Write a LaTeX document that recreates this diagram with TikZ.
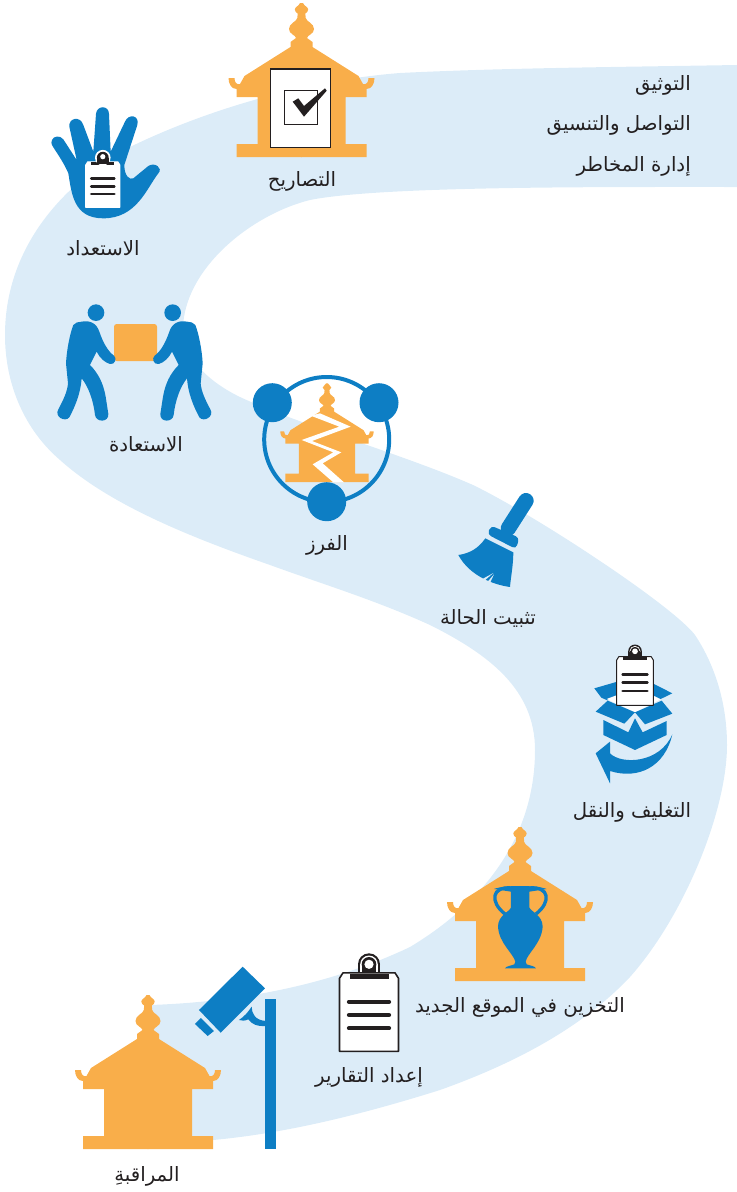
\documentclass[tikz,border=0pt]{standalone}
\usepackage{fontspec}
\newfontfamily\arabicfont[Script=Arabic]{DejaVu Sans}
\TeXXeTstate=1
\definecolor{bandc}{HTML}{DCECF8}
\definecolor{bluec}{HTML}{0D7EC4}
\definecolor{orangec}{HTML}{F9AE4A}
\definecolor{inkc}{HTML}{231F20}
\tikzset{
  lbl/.style={text=inkc,inner sep=0pt,font=\arabicfont\fontsize{14.8}{16}\selectfont},
  lblr/.style={lbl,anchor=east},
  bluestroke/.style={draw=bluec,line cap=round,line join=round}
}
\newcommand\halfhouse{\fill[orangec] (0.3,-154) -- (-1.5,-154) .. controls (-2.5,-151) and (-6.7,-150) .. (-6.7,-147.5) .. controls (-6.7,-145.5) and (-5,-144) .. (-3.8,-143.5) -- (-4.2,-139) .. controls (-5,-135) and (-12.5,-134) .. (-12.5,-128) .. controls (-12.5,-123) and (-6,-122) .. (-5.5,-119) -- (-11,-115) -- (-11,-110) -- (-57,-81) -- (-61.5,-73) .. controls (-65,-72) and (-67,-75) .. (-67,-79) -- (-73,-79) .. controls (-73,-73) and (-70,-68) .. (-65,-68) -- (-65,-60) -- (-44,-60) -- (-44,-13) -- (-65,-13) -- (-65,0) -- (0.3,0) -- cycle;}
\newcommand\temple[3]{\begin{scope}[shift={(#1,#2)},scale=#3]\halfhouse\begin{scope}[xscale=-1]\halfhouse\end{scope}\end{scope}}
% clipboard: x, y (centre of top of the sheet), scale, colour of outline
\newcommand\clipb[4]{\begin{scope}[shift={(#1,#2)},scale=#3]
  \fill[#4] (0,-14) circle[radius=11];
  \fill[#4] (-11,-14) rectangle (11,-3);
  \fill[white] (0,-14) circle[radius=8.8];
  \fill[white] (-8.8,-14) rectangle (8.8,-3);
  \fill[inkc] (0,-14) circle[radius=7.3];
  \fill[inkc] (-7.3,-14) rectangle (7.3,-2);
  \fill[white] (0,-14) circle[radius=4.6];
  \filldraw[fill=white,draw=#4,line width={#3*1.2pt},line join=round] (-29.5,0) -- (-29.5,73) -- (29.5,73) -- (29.5,0) -- (26,-5.5) -- (-26,-5.5) -- cycle;
  \fill[inkc] (-19.5,-4.5) rectangle (19.5,0.5);
  \foreach \yy in {23.4,36.7,50}{\draw[inkc,line cap=round,line width={#3*3.2pt}] (-20,\yy) -- (20,\yy);}
\end{scope}}
\newcommand\mover{\fill[bluec] (168,68) circle[radius=25];
 \fill[bluec] (125,95) .. controls (150,90) and (170,100) .. (178,125) .. controls (190,160) and (205,185) .. (222,197) .. controls (232,205) and (225,225) .. (210,222) .. controls (195,218) and (180,205) .. (170,185) -- (150,225) .. controls (175,250) and (190,280) .. (197,320) -- (205,372) .. controls (207,398) and (168,398) .. (165,375) .. controls (160,330) and (145,290) .. (125,265) .. controls (122,310) and (105,350) .. (88,382) .. controls (75,398) and (42,380) .. (55,358) .. controls (70,330) and (82,305) .. (84,280) -- (78,220) .. controls (80,180) and (90,130) .. (100,105) .. controls (105,97) and (115,96) .. (125,95) -- cycle;}
\begin{document}
\begin{tikzpicture}[x=0.75pt,y=-0.75pt]
\useasboundingbox (0,0) rectangle (737,1192);
% band
\fill[bandc] (737,65) .. controls (620,67) and (500,68) .. (400,73)
 .. controls (310,80) and (210,108) .. (130,147)
 .. controls (60,185) and (5,250) .. (5,335)
 .. controls (5,385) and (25,430) .. (60,460)
 .. controls (110,505) and (190,537) .. (270,565)
 .. controls (325,585) and (375,600) .. (430,625)
 .. controls (490,655) and (535,690) .. (535,750)
 .. controls (535,840) and (480,905) .. (410,947)
 .. controls (330,985) and (240,1002) .. (150,1005)
 -- (150,1145) -- (213,1140)
 .. controls (290,1133) and (370,1112) .. (440,1090)
 .. controls (510,1065) and (580,1030) .. (630,977)
 .. controls (685,915) and (727,810) .. (727,745)
 .. controls (727,700) and (713,662) .. (695,635)
 .. controls (672,605) and (535,515) .. (473,485)
 .. controls (405,455) and (300,425) .. (240,397)
 .. controls (205,380) and (183,355) .. (183,330)
 .. controls (183,270) and (250,215) .. (310,200)
 .. controls (380,186) and (600,187) .. (737,187) -- cycle;

% permits
\temple{301.5}{157}{1}
\filldraw[fill=white,draw=inkc,line width=0.8pt] (270.7,69) rectangle (330.7,147.3);
\draw[draw=inkc,line width=0.6pt] (284,90.7) rectangle (317.3,124);
\fill[inkc] (292.7,101.7) -- (298.3,98.3) -- (304,106) -- (325,88.3) -- (326.7,90.7) -- (304,116.7) -- cycle;

% hand
\begin{scope}[shift={(30,90)},scale=0.3333]
 \fill[bluec] (66,150) .. controls (70,138) and (90,135) .. (100,148) -- (140,210) -- (118,110) .. controls (115,85) and (150,75) .. (160,105) -- (190,185) -- (198,72) .. controls (200,45) and (237,45) .. (237,72) -- (242,185) -- (285,95) .. controls (295,70) and (330,75) .. (322,105) -- (283,225) .. controls (283,260) and (300,270) .. (310,265) -- (355,228) .. controls (375,215) and (400,235) .. (385,250) .. controls (350,295) and (320,385) .. (220,385) .. controls (130,385) and (125,310) .. (115,250) .. controls (105,225) and (85,195) .. (70,172) .. controls (62,160) and (64,155) .. (66,150) -- cycle;
\end{scope}
\clipb{102.8}{165}{0.58}{white}
\fill[white] (102.8,157.7) circle[radius=7.8];
\fill[inkc] (102.8,157.7) circle[radius=5.9];
\fill[inkc] (96.9,157.7) rectangle (108.7,164);
\fill[white] (102.8,156.7) circle[radius=2.6];

% restoration (movers)
\fill[orangec,rounded corners=2pt] (114,324) rectangle (157,361);
\begin{scope}[shift={(40,290)},scale=0.3333]\mover\end{scope}
\begin{scope}[shift={(268.67,0)},xscale=-1]\begin{scope}[shift={(40,290)},scale=0.3333]\mover\end{scope}\end{scope}

% triage
\temple{327}{482}{0.64}
\begin{scope}[shift={(240,365)},scale=0.3333]
 \fill[white] (212,152) -- (298,185) -- (185,225) -- (280,262) -- (218,298) -- (280,352) -- (312,352) -- (248,295) -- (304,262) -- (216,228) -- (332,185) -- (240,145) -- cycle;
\end{scope}
\draw[bluec,line width=3pt] (326.7,439.5) circle[radius=62.5];
\fill[bluec] (272.3,402.7) circle[radius=19.5];
\fill[bluec] (379,402.7) circle[radius=19.5];
\fill[bluec] (326.7,501.7) circle[radius=19.5];

% broom
\begin{scope}[shift={(430,485)},scale=0.3333]
 \draw[bluestroke,line width=11.5pt,line cap=round] (288,47) -- (235,130);
 \fill[bluec,rounded corners=3pt] (183,122) -- (268,158) -- (258,192) -- (172,148) -- cycle;
 \fill[bluec] (166,160) -- (250,202) .. controls (250,240) and (242,280) .. (240,306) .. controls (195,300) and (120,275) .. (85,210) .. controls (120,205) and (145,190) .. (166,160) -- cycle;
 \fill[bandc] (152,285) -- (190,264) -- (160,290) -- cycle;
 \fill[bandc] (168,296) -- (192,268) -- (178,298) -- cycle;
\end{scope}

% packing
\begin{scope}[shift={(560,635)},scale=0.3333]
 \fill[bluec] (103,160) -- (172,140) -- (172,188) -- (142,196) -- (124,188) -- cycle;
 \fill[white] (140,192) -- (225,232) -- (302,193) -- (225,160) -- cycle;
 \fill[bluec] (278,145) -- (337,175) -- (302,192) -- (278,180) -- cycle;
 \fill[bluec] (107,230) -- (143,197) -- (225,232) -- (193,266) -- cycle;
 \fill[bluec] (225,232) -- (305,197) -- (337,236) -- (255,268) -- cycle;
 \fill[bluec] (130,255) -- (130,300) -- (225,345) -- (320,300) -- (320,258) -- (248,292) -- (225,250) -- (205,292) -- cycle;
 \fill[bluec] (337,298) .. controls (315,395) and (235,435) .. (150,408) -- (150,445) -- (107,355) -- (150,320) -- (150,355) .. controls (185,390) and (300,385) .. (337,298) -- cycle;
\end{scope}
\clipb{635}{660}{0.62}{inkc}

% storage
\temple{520}{981}{1}
\begin{scope}[shift={(410,820)},scale=0.3333]
 \fill[bluec] (252,207) .. controls (280,195) and (380,195) .. (410,207) -- (358,215) -- (358,262) .. controls (362,275) and (398,285) .. (398,320) .. controls (395,370) and (352,400) .. (347,425) -- (350,433) .. controls (360,437) and (375,438) .. (378,445) -- (285,445) .. controls (288,438) and (305,437) .. (313,433) -- (316,425) .. controls (310,400) and (267,370) .. (264,320) .. controls (264,285) and (300,275) .. (303,262) -- (303,215) -- cycle;
 \draw[bluec,line width=2.5pt] (305,204) .. controls (245,198) and (238,245) .. (285,282);
 \draw[bluec,line width=2.5pt] (358,204) .. controls (418,198) and (425,245) .. (378,282);
\end{scope}

% reports
\clipb{369}{978.3}{1}{inkc}

% monitoring
\temple{148}{1149}{1}
\begin{scope}[shift={(60,950)},scale=0.3333]
 \fill[bluec] (548,50) -- (615,115) -- (482,248) -- (417,180) -- cycle;
 \fill[bluec] (423,204) -- (462,243) -- (443,258) -- (405,222) -- cycle;
 \fill[bluec] (615,147) rectangle (648,597);
 \fill[bluec] (537,210) .. controls (555,198) and (565,185) .. (575,170) .. controls (575,190) and (585,212) .. (620,213) -- (620,228) .. controls (590,230) and (575,222) .. (565,208) .. controls (555,213) and (545,213) .. (537,210) -- cycle;
\end{scope}

% labels
\node[lblr] (t1) at (691,85) {\beginR التوثيق\endR};
\node[lblr] (t2) at (691,125) {\beginR التواصل والتنسيق\endR};
\node[lblr] (t3) at (691,166) {\beginR إدارة المخاطر\endR};
\node[lbl] (l1) at (302,181) {\beginR التصاريح\endR};
\node[lbl] (l2) at (103,248) {\beginR الاستعداد\endR};
\node[lbl] (l3) at (146,444) {\beginR الاستعادة\endR};
\node[lbl] (l4) at (327,545) {\beginR الفرز\endR};
\node[lbl] (l5) at (488,618) {\beginR تثبيت الحالة\endR};
\node[lbl] (l6) at (632,812) {\beginR التغليف والنقل\endR};
\node[lbl] (l7) at (520,1007) {\beginR التخزين في الموقع الجديد\endR};
\node[lbl] (l8) at (369,1077) {\beginR إعداد التقارير\endR};
\node[lbl] (l9) at (147,1176) {\beginR المراقبةِ\endR};
\end{tikzpicture}
\end{document}
